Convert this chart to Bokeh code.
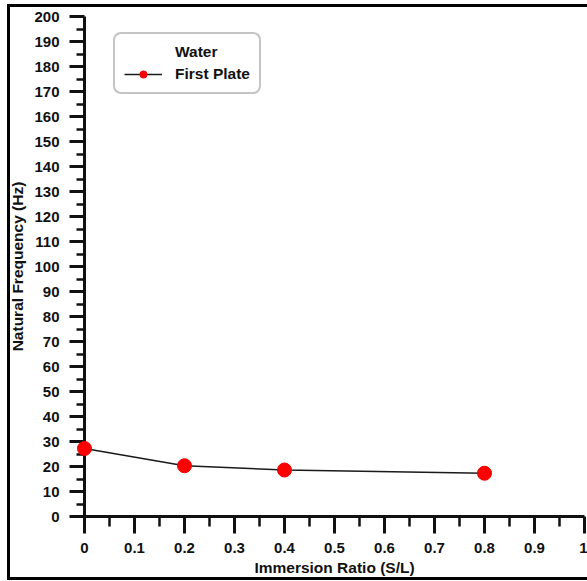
from bokeh.plotting import figure
from bokeh.models import (Range1d, Legend, LegendItem, FixedTicker,
                          NumeralTickFormatter)
from bokeh.embed import file_html
from bokeh.resources import INLINE

# ---- data -----------------------------------------------------------
immersion_ratio = [0.0, 0.2, 0.4, 0.8]
first_plate_hz = [27.2, 20.3, 18.6, 17.3]

x_major_ticks = [0.0, 0.1, 0.2, 0.3, 0.4, 0.5, 0.6, 0.7, 0.8, 0.9, 1.0]
x_minor_ticks = [0.05, 0.15, 0.25, 0.35, 0.45, 0.55, 0.65, 0.75, 0.85, 0.95]
y_major_ticks = list(range(0, 201, 10))
y_minor_ticks = list(range(5, 200, 10))

series_name = "First Plate"
legend_title = "Water"
x_title = "Immersion Ratio (S/L)"
y_title = "Natural Frequency (Hz)"

FONT = "Liberation Sans"
INK = "#111111"

p = figure(width=587, height=580, output_backend="svg", toolbar_location=None,
           x_range=Range1d(0, 1), y_range=Range1d(0, 200),
           min_border_left=84, min_border_right=3, min_border_top=16,
           min_border_bottom=64)
# outer black frame of the picture (left, top, bottom), painted behind the
# transparent border area of the canvas
p.styles = {
    "background-image": ("linear-gradient(#000,#000),linear-gradient(#000,#000),"
                         "linear-gradient(#000,#000)"),
    "background-size": "3px 576px, 580px 3px, 580px 3px",
    "background-position": "7px 4px, 7px 4px, 7px 577px",
    "background-repeat": "no-repeat",
}
p.outline_line_color = None
p.xgrid.visible = False
p.ygrid.visible = False
p.background_fill_color = "white"
p.border_fill_color = None

# axes
p.xaxis.ticker = FixedTicker(ticks=x_major_ticks, minor_ticks=x_minor_ticks)
p.xaxis.formatter = NumeralTickFormatter(format="0.[0]")
p.yaxis.ticker = FixedTicker(ticks=y_major_ticks, minor_ticks=y_minor_ticks)

for ax in (p.xaxis[0], p.yaxis[0]):
    ax.axis_line_color = INK
    ax.axis_line_width = 3
    ax.major_tick_line_color = INK
    ax.major_tick_line_width = 3
    ax.minor_tick_line_color = INK
    ax.minor_tick_line_width = 2.5
    ax.major_tick_in = 0
    ax.minor_tick_in = 0
    ax.major_label_text_font = FONT
    ax.major_label_text_font_style = "bold"
    ax.major_label_text_font_size = "15px"
    ax.major_label_text_color = INK
    ax.axis_label_text_font = FONT
    ax.axis_label_text_font_style = "bold"
    ax.axis_label_text_font_size = "15.5px"
    ax.axis_label_text_color = INK

p.xaxis.major_tick_out = 17
p.xaxis.minor_tick_out = 10
p.xaxis.major_label_standoff = 9
p.xaxis.axis_label = x_title
p.xaxis.axis_label_standoff = 3

p.yaxis.major_tick_out = 15
p.yaxis.minor_tick_out = 8
p.yaxis.major_label_standoff = 10
p.yaxis.axis_label = y_title
p.yaxis.axis_label_standoff = 5

# data
line_r = p.line(immersion_ratio, first_plate_hz, line_color="#1a1a1a", line_width=1.6)
pts_r = p.scatter(immersion_ratio, first_plate_hz, size=14, fill_color="#ff0000",
                  line_color="#ee0000", line_width=1, level="overlay")
# empty, invisible renderer that only carries the legend heading row
head_r = p.scatter(x=[], y=[], fill_alpha=0, line_alpha=0)

legend = Legend(items=[LegendItem(label=legend_title, renderers=[head_r]),
                       LegendItem(label=series_name, renderers=[line_r, pts_r])],
                location=(29, 422))
legend.label_text_font = FONT
legend.label_text_font_style = "bold"
legend.label_text_font_size = "15.5px"
legend.label_text_color = INK
legend.label_standoff = 13
legend.glyph_width = 38
legend.glyph_height = 18
legend.spacing = 4
legend.padding = 9
legend.border_line_color = "#8a8a8a"
legend.border_line_width = 2
legend.border_radius = 8
legend.background_fill_color = "white"
legend.background_fill_alpha = 1
p.add_layout(legend)

open("out.html", "w").write(file_html(p, INLINE))
